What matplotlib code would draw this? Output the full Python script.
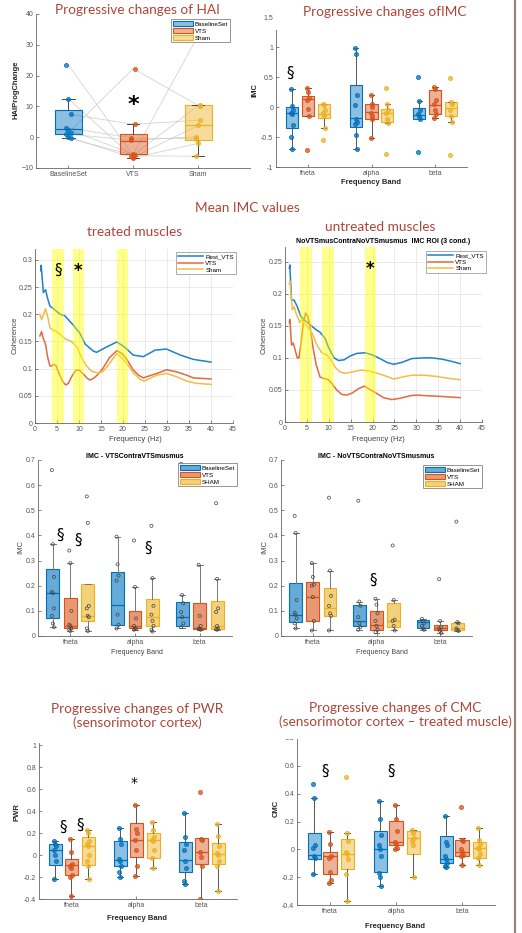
import numpy as np
import matplotlib
matplotlib.use('Agg')
import matplotlib.pyplot as plt
from matplotlib.patches import Rectangle, Patch
from matplotlib.lines import Line2D
from matplotlib.colors import to_rgba

plt.rcParams['font.family'] = ['Liberation Sans', 'DejaVu Sans']

# ---------------- DATA ----------------
conds3 = ['BaselineSet', 'VTS', 'Sham']
bands = ['theta', 'alpha', 'beta']

# HAI progressive change (paired subjects)
hai_base = [23.5, 12.5, 7.5, 3.0, 2.5, 1.5, 1.0, 0.0, -0.3]
hai_vts = [-6.0, -6.5, 4.2, -0.3, -5.5, 22.3, -1.0, -6.7, -5.8]
hai_sham = [-6.2, 3.8, 5.5, -0.5, 33.0, 10.3, 0.2, -2.0, 10.2]
hai_box = [(1.0, 2.7, 8.8, -0.3, 12.5), (-5.6, -1.3, 1.0, -6.7, 4.2), (-1.0, 3.9, 10.3, -6.2, 10.3)]

# Progressive changes of IMC  [theta, alpha, beta]
imcp_base_pts = [[0.3, 0.02, -0.05, -0.1, -0.12, -0.3, -0.5, -0.7],
                 [0.98, 0.88, 0.2, 0.03, -0.2, -0.25, -0.28, -0.46, -0.7],
                 [0.5, 0.1, -0.05, -0.12, -0.15, -0.2, -0.75]]
imcp_vts_pts = [[0.32, 0.25, 0.15, 0.12, -0.03, -0.15, -0.72],
                [0.2, 0.05, 0.0, -0.1, -0.15, -0.2, -0.52],
                [0.33, 0.3, 0.12, 0.05, -0.05, -0.12, -0.18]]
imcp_sham_pts = [[0.05, 0.03, -0.05, -0.1, -0.15, -0.35, -0.55],
                 [0.32, 0.05, -0.05, -0.1, -0.2, -0.27, -0.78],
                 [0.48, 0.08, 0.05, -0.05, -0.15, -0.25, -0.8]]
imcp_base_box = [(-0.35, -0.1, 0.0, -0.7, 0.3), (-0.34, -0.18, 0.37, -0.7, 0.98), (-0.2, -0.14, -0.02, -0.2, 0.1)]
imcp_vts_box = [(-0.15, 0.13, 0.18, -0.15, 0.32), (-0.2, -0.08, 0.05, -0.52, 0.2), (-0.12, 0.03, 0.28, -0.18, 0.33)]
imcp_sham_box = [(-0.18, -0.12, 0.05, -0.35, 0.05), (-0.25, -0.1, -0.03, -0.27, 0.05), (-0.15, -0.02, 0.08, -0.25, 0.08)]

# Mean IMC coherence spectra - treated muscles
fL_rest = [1.3, 1.4, 1.9, 2.4, 2.9, 3.4, 4.2, 5.7, 6.8, 8.7, 10.2, 11.4, 13.3, 14.0, 16.3, 18.6, 20.3, 22.3, 24.6, 27.3, 29.9, 33.0, 36.0, 40.0]
cL_rest = [0.28, 0.29, 0.24, 0.245, 0.228, 0.215, 0.21, 0.2, 0.197, 0.18, 0.165, 0.145, 0.132, 0.13, 0.14, 0.149, 0.14, 0.125, 0.122, 0.134, 0.136, 0.125, 0.117, 0.112]
fL_vts = [1.1, 1.5, 1.9, 2.4, 2.9, 3.4, 3.8, 4.3, 4.8, 5.5, 6.4, 7.0, 7.6, 8.3, 9.3, 10.1, 11.0, 11.9, 12.5, 13.3, 14.4, 15.4, 16.9, 18.6, 19.7, 20.8, 22.3, 23.5, 24.6, 26.1, 28.0, 29.9, 32.2, 34.1, 36.0, 37.9, 40.0]
cL_vts = [0.16, 0.168, 0.155, 0.145, 0.12, 0.105, 0.105, 0.108, 0.105, 0.09, 0.075, 0.07, 0.073, 0.085, 0.097, 0.097, 0.09, 0.082, 0.079, 0.082, 0.09, 0.1, 0.12, 0.133, 0.128, 0.118, 0.098, 0.088, 0.083, 0.087, 0.092, 0.098, 0.094, 0.089, 0.083, 0.082, 0.081]
fL_sham = [1.1, 1.5, 2.4, 2.9, 3.4, 4.2, 4.5, 5.7, 6.8, 8.3, 9.5, 10.6, 11.7, 12.9, 14.4, 15.5, 17.0, 18.6, 19.7, 20.8, 22.3, 23.9, 24.8, 26.1, 27.7, 29.9, 32.2, 34.5, 36.7, 40.0]
cL_sham = [0.2, 0.19, 0.21, 0.195, 0.175, 0.17, 0.17, 0.163, 0.155, 0.15, 0.14, 0.12, 0.105, 0.095, 0.092, 0.095, 0.11, 0.128, 0.12, 0.11, 0.093, 0.08, 0.077, 0.082, 0.088, 0.091, 0.085, 0.077, 0.073, 0.071]
spansL = [(3.9, 6.5), (8.6, 11.1), (18.6, 21.1)]

# untreated muscles
fR_rest = [1.0, 1.1, 1.5, 2.1, 2.8, 3.6, 4.6, 5.7, 6.9, 8.0, 9.2, 9.9, 11.2, 12.2, 13.5, 14.9, 16.4, 18.3, 19.8, 21.4, 23.3, 24.8, 26.7, 29.0, 31.7, 33.6, 35.9, 37.8, 40.0]
cR_rest = [0.24, 0.245, 0.19, 0.19, 0.18, 0.165, 0.158, 0.152, 0.145, 0.14, 0.13, 0.117, 0.1, 0.096, 0.097, 0.103, 0.107, 0.108, 0.105, 0.1, 0.093, 0.09, 0.093, 0.099, 0.1, 0.1, 0.098, 0.095, 0.091]
fR_vts = [1.0, 1.1, 1.5, 1.9, 2.3, 2.8, 3.2, 3.6, 4.2, 4.7, 5.2, 5.7, 6.3, 7.1, 8.0, 8.8, 9.9, 10.7, 11.8, 13.0, 14.1, 15.3, 16.8, 18.1, 19.1, 20.6, 22.5, 24.4, 26.3, 28.6, 30.2, 32.4, 35.5, 40.0]
cR_vts = [0.155, 0.16, 0.12, 0.123, 0.113, 0.1, 0.1, 0.12, 0.155, 0.17, 0.165, 0.15, 0.12, 0.09, 0.07, 0.068, 0.066, 0.06, 0.05, 0.043, 0.042, 0.045, 0.052, 0.056, 0.052, 0.046, 0.038, 0.035, 0.037, 0.041, 0.042, 0.041, 0.04, 0.038]
fR_sham = [1.0, 1.1, 1.7, 2.1, 2.5, 3.1, 3.4, 3.8, 4.2, 5.0, 6.1, 7.3, 8.4, 9.5, 10.5, 11.5, 12.6, 13.7, 15.3, 17.2, 19.1, 20.6, 22.9, 24.8, 26.7, 29.0, 31.7, 34.7, 37.4, 40.0]
cR_sham = [0.215, 0.22, 0.175, 0.18, 0.17, 0.16, 0.155, 0.16, 0.155, 0.15, 0.14, 0.12, 0.108, 0.105, 0.097, 0.085, 0.078, 0.076, 0.078, 0.081, 0.08, 0.077, 0.072, 0.067, 0.07, 0.073, 0.073, 0.071, 0.068, 0.066]
spansR = [(3.4, 6.1), (8.5, 11.2), (18.2, 20.9)]

# IMC - VTSContraVTSmusmus
imcA_base_pts = [[0.66, 0.365, 0.235, 0.175, 0.17, 0.11, 0.08, 0.05, 0.035],
                 [0.395, 0.285, 0.24, 0.22, 0.085, 0.045, 0.03],
                 [0.685, 0.163, 0.13, 0.095, 0.075, 0.05, 0.035]]
imcA_vts_pts = [[0.34, 0.29, 0.1, 0.045, 0.04, 0.03, 0.025, 0.02],
                [0.38, 0.195, 0.07, 0.04, 0.03, 0.028, 0.025],
                [0.283, 0.08, 0.04, 0.03, 0.028, 0.025]]
imcA_sham_pts = [[0.555, 0.45, 0.12, 0.11, 0.08, 0.075, 0.03, 0.02],
                 [0.438, 0.23, 0.12, 0.085, 0.06, 0.04, 0.025, 0.018],
                 [0.528, 0.227, 0.11, 0.095, 0.04, 0.03, 0.028, 0.025]]
imcA_base_box = [(0.07, 0.172, 0.265, 0.035, 0.365), (0.045, 0.125, 0.255, 0.03, 0.395), (0.04, 0.075, 0.137, 0.03, 0.163)]
imcA_vts_box = [(0.03, 0.04, 0.15, 0.02, 0.29), (0.03, 0.04, 0.1, 0.025, 0.195), (0.028, 0.03, 0.133, 0.025, 0.283)]
imcA_sham_box = [(0.06, 0.08, 0.205, 0.02, 0.205), (0.04, 0.075, 0.148, 0.018, 0.23), (0.028, 0.04, 0.14, 0.025, 0.227)]

# IMC - NoVTSContraNoVTSmusmus
imcB_base_pts = [[0.478, 0.41, 0.143, 0.093, 0.085, 0.07, 0.05, 0.03],
                 [0.538, 0.137, 0.12, 0.075, 0.05, 0.035, 0.025],
                 [0.068, 0.06, 0.05, 0.04, 0.03, 0.025]]
imcB_vts_pts = [[0.29, 0.235, 0.205, 0.2, 0.155, 0.06, 0.022],
                [0.148, 0.125, 0.09, 0.06, 0.04, 0.025, 0.015],
                [0.226, 0.06, 0.035, 0.03, 0.02, 0.012]]
imcB_sham_pts = [[0.55, 0.26, 0.16, 0.12, 0.09, 0.08, 0.022],
                 [0.36, 0.143, 0.065, 0.06, 0.04, 0.022],
                 [0.455, 0.055, 0.05, 0.03, 0.025, 0.02]]
imcB_base_box = [(0.055, 0.083, 0.21, 0.03, 0.41), (0.04, 0.058, 0.123, 0.025, 0.137), (0.03, 0.055, 0.063, 0.025, 0.068)]
imcB_vts_box = [(0.06, 0.155, 0.215, 0.022, 0.29), (0.025, 0.045, 0.1, 0.012, 0.148), (0.025, 0.032, 0.045, 0.012, 0.06)]
imcB_sham_box = [(0.08, 0.11, 0.19, 0.022, 0.26), (0.035, 0.058, 0.13, 0.022, 0.143), (0.025, 0.033, 0.052, 0.02, 0.055)]

# PWR
pwr_base_pts = [[0.13, 0.1, 0.08, 0.05, 0.0, -0.05, -0.22],
                [0.25, 0.15, 0.1, -0.04, -0.05, -0.1, -0.15, -0.2],
                [0.38, 0.16, 0.1, 0.05, -0.05, -0.12, -0.24, -0.26]]
pwr_vts_pts = [[0.15, 0.03, -0.08, -0.1, -0.12, -0.18, -0.2, -0.37],
               [0.46, 0.24, 0.2, 0.14, 0.05, -0.1, -0.19],
               [0.57, 0.15, 0.14, 0.03, -0.02, -0.1, -0.4]]
pwr_sham_pts = [[0.23, 0.2, 0.13, 0.1, 0.08, 0.0, -0.05, -0.1, -0.22],
                [0.3, 0.23, 0.16, 0.14, 0.13, 0.05, -0.03, -0.12],
                [0.28, 0.17, 0.08, 0.02, 0.0, -0.05, -0.1, -0.33]]
pwr_base_box = [(-0.09, 0.05, 0.1, -0.22, 0.13), (-0.1, -0.045, 0.13, -0.2, 0.25), (-0.15, -0.045, 0.12, -0.26, 0.38)]
pwr_vts_box = [(-0.18, -0.09, -0.04, -0.37, 0.15), (-0.02, 0.14, 0.29, -0.19, 0.46), (-0.08, 0.03, 0.155, -0.4, 0.155)]
pwr_sham_box = [(-0.09, 0.08, 0.16, -0.22, 0.23), (-0.03, 0.14, 0.2, -0.12, 0.3), (-0.08, 0.01, 0.11, -0.33, 0.28)]

# CMC
cmc_base_pts = [[0.47, 0.37, 0.03, 0.01, -0.05, -0.06, -0.18],
                [0.35, 0.22, 0.1, 0.03, 0.0, -0.05, -0.17, -0.2, -0.265],
                [0.24, 0.05, 0.03, -0.05, -0.07, -0.1, -0.12, -0.13]]
cmc_vts_pts = [[0.125, 0.035, -0.05, -0.06, -0.16, -0.22, -0.24],
               [0.32, 0.22, 0.135, 0.05, 0.04, 0.01, 0.0],
               [0.305, 0.07, 0.06, 0.0, -0.02, -0.04, -0.05, -0.115]]
cmc_sham_pts = [[0.52, 0.12, 0.06, -0.02, -0.03, -0.07, -0.18, -0.37],
                [0.14, 0.12, 0.08, 0.06, 0.03, -0.2],
                [0.155, 0.07, 0.04, 0.01, 0.0, -0.03, -0.06, -0.115]]
cmc_base_box = [(-0.07, -0.04, 0.115, -0.18, 0.37), (-0.165, 0.0, 0.13, -0.265, 0.35), (-0.1, -0.07, 0.095, -0.13, 0.24)]
cmc_vts_box = [(-0.18, -0.05, -0.02, -0.24, 0.125), (0.03, 0.05, 0.205, 0.0, 0.32), (-0.05, -0.02, 0.065, -0.115, 0.08)]
cmc_sham_box = [(-0.14, -0.03, 0.075, -0.37, 0.12), (-0.03, 0.08, 0.13, -0.2, 0.14), (-0.06, 0.01, 0.055, -0.115, 0.155)]

# ---------------- STYLE ----------------
W, H = 522, 933
fig = plt.figure(figsize=(W / 100, H / 100), dpi=100)
BLUE, ORANGE, YELLOW = '#0072BD', '#D95319', '#EDB120'
TCOL = '#AE4538'
TFONT = ['Lato', 'DejaVu Sans']
SYM = ['DejaVu Sans']


def ax_px(l, t, r, b):
    return fig.add_axes([l / W, 1 - b / H, (r - l) / W, (b - t) / H])


def style(ax, grid=False):
    for s in ['top', 'right']:
        ax.spines[s].set_visible(False)
    for s in ['left', 'bottom']:
        ax.spines[s].set_color('#666666')
        ax.spines[s].set_linewidth(0.6)
    ax.tick_params(direction='in', length=2, width=0.5, labelsize=5, colors='#555555', pad=2)
    if grid:
        ax.grid(True, color='#e3e3e3', lw=0.5)
        ax.set_axisbelow(True)


def label_px(ax, text, x, y, rot=0, bold=False, size=5.5, color='#262626'):
    fig.text(x / W, 1 - y / H, text, rotation=rot, ha='center', va='center', fontsize=size,
             fontweight='bold' if bold else 'normal', color=color)


def ftitle(text, x, y, size=9.8):
    fig.text(x / W, 1 - y / H, text, ha='center', va='center', fontsize=size, color=TCOL,
             family=TFONT, zorder=10, linespacing=1.05)


def draw_boxes(ax, positions, stats, pts, color, width, falpha, filled_pts, wcol='#555555'):
    for i, (p, st) in enumerate(zip(positions, stats)):
        q1, med, q3, lo, hi = st
        ax.bxp([dict(q1=q1, med=med, q3=q3, whislo=lo, whishi=hi, fliers=[])], positions=[p],
               widths=width, patch_artist=True, showfliers=False, manage_ticks=False,
               boxprops=dict(facecolor=to_rgba(color, falpha), edgecolor=color, lw=0.8),
               medianprops=dict(color=color, lw=0.9),
               whiskerprops=dict(color=wcol, lw=0.7), capprops=dict(color=wcol, lw=0.7),
               capwidths=width * 0.45)
        vals = np.array(pts[i])
        off = ((np.arange(len(vals)) % 3) - 1) * width * 0.08
        if filled_pts:
            ax.scatter(p + off, vals, s=9, facecolor=to_rgba(color, 0.75), edgecolor=color,
                       linewidths=0.5, zorder=5)
        else:
            ax.scatter(p + off, vals, s=5, facecolor='none', edgecolor='#444444',
                       linewidths=0.5, zorder=5)


def legend_patches(ax, labels, cols, falpha, x, y, size=4.5):
    hs = [Patch(facecolor=to_rgba(c, falpha), edgecolor=c, lw=0.8) for c in cols]
    lg = ax.legend(hs, labels, loc='upper left', bbox_to_anchor=(x / W, 1 - y / H),
                   bbox_transform=fig.transFigure, fontsize=size, frameon=True, fancybox=False,
                   handlelength=3.2, handleheight=1.0, handletextpad=0.3, borderpad=0.3,
                   labelspacing=0.15, borderaxespad=0)
    lg.get_frame().set_edgecolor('#666666')
    lg.get_frame().set_linewidth(0.6)
    return lg


# ---------------- PANEL 1: HAI ----------------
ax1 = ax_px(36, 14, 250, 168)
style(ax1)
xs = np.arange(1, 4)
for a, b, c in zip(hai_base, hai_vts, hai_sham):
    ax1.plot(xs, [a, b, c], color='#c9c9c9', lw=0.6, alpha=0.8, zorder=1)
for i, (vals, col) in enumerate(zip([hai_base, hai_vts, hai_sham], [BLUE, ORANGE, YELLOW])):
    draw_boxes(ax1, [xs[i]], [hai_box[i]], [vals], col, 0.42, 0.45, True, wcol='#444444')
ax1.set_xlim(0.5, 3.8)
ax1.set_ylim(-10, 40)
ax1.set_yticks([-10, 0, 10, 20, 30, 40])
ax1.set_xticks(xs)
ax1.set_xticklabels(conds3)
ax1.text(2, 10.5, '*', ha='center', va='center', fontsize=16, fontweight='bold', family=SYM)
legend_patches(ax1, ['BaselineSet', 'VTS', 'Sham'], [BLUE, ORANGE, YELLOW], 0.45, 171, 19)
label_px(ax1, 'HAIProgChange', 16, 90, rot=90, bold=True)
ftitle('Progressive changes of HAI', 137, 10)

# ---------------- PANEL 2: IMC progressive ----------------
ax2 = ax_px(276, 17, 467, 167)
style(ax2)
bx = np.arange(1, 4)
draw_boxes(ax2, bx - 0.25, imcp_base_box, imcp_base_pts, BLUE, 0.19, 0.45, True)
draw_boxes(ax2, bx, imcp_vts_box, imcp_vts_pts, ORANGE, 0.19, 0.45, True)
draw_boxes(ax2, bx + 0.25, imcp_sham_box, imcp_sham_pts, YELLOW, 0.19, 0.45, True)
ax2.set_xlim(0.5, 3.5)
ax2.set_ylim(-1, 1.5)
ax2.set_yticks([-1, -0.5, 0, 0.5, 1, 1.5])
ax2.set_yticklabels(['-1', '-0.5', '0', '0.5', '1', '1.5'])
ax2.set_xticks(bx)
ax2.set_xticklabels(bands)
ax2.text(0.72, 0.57, '§', ha='center', va='center', fontsize=11, family=SYM)
label_px(ax2, 'Frequency Band', 371, 183, bold=True)
label_px(ax2, 'IMC', 255, 90, rot=90, bold=True)
fig.add_artist(Rectangle((273 / W, 1 - 30 / H), 237 / W, 30 / H, transform=fig.transFigure,
                         facecolor='white', edgecolor='none', zorder=9))
ftitle('Progressive changes ofIMC', 385, 12)

# ---------------- Mean IMC line panels ----------------
ftitle('Mean IMC values', 247, 208)
ftitle('treated muscles', 135, 232)
ftitle('untreated muscles', 380, 227)

LB, LO, LY = '#1f80cc', '#e4693c', '#f0bd47'


def line_panel(ax, series, spans, ylim, yticks, leg_xy):
    style(ax, grid=True)
    hs = []
    for f, c, col, lab in series:
        h, = ax.plot(f, c, color=col, lw=1.1, label=lab, zorder=2)
        hs.append(h)
    for a, b in spans:
        ax.axvspan(a, b, color='#ffff00', alpha=0.45, lw=0, zorder=3)
    ax.set_xlim(0, 45)
    ax.set_ylim(*ylim)
    ax.set_xticks(np.arange(0, 46, 5))
    ax.set_yticks(yticks)
    ax.set_yticklabels([('%g' % v) for v in yticks])
    lg = ax.legend(hs, [s[3] for s in series], loc='upper left', bbox_to_anchor=(leg_xy[0] / W, 1 - leg_xy[1] / H),
                   bbox_transform=fig.transFigure, fontsize=4.5, frameon=True, fancybox=False,
                   handlelength=4.0, handletextpad=0.4, borderpad=0.3, labelspacing=0.2, borderaxespad=0)
    lg.get_frame().set_edgecolor('#888888')
    lg.get_frame().set_linewidth(0.6)
    lg.set_zorder(6)


ax3 = ax_px(35, 249, 233, 423)
line_panel(ax3, [(fL_rest, cL_rest, LB, 'Rest_VTS'), (fL_vts, cL_vts, LO, 'VTS'), (fL_sham, cL_sham, LY, 'Sham')],
           spansL, (0, 0.32), [0, 0.05, 0.1, 0.15, 0.2, 0.25, 0.3], (176, 252))
ax3.text(5.3, 0.28, '§', ha='center', va='center', fontsize=11, family=SYM, zorder=7)
ax3.text(9.8, 0.279, '*', ha='center', va='center', fontsize=12, fontweight='bold', family=SYM, zorder=7)
label_px(ax3, 'Frequency (Hz)', 135, 439, size=5.5, color='#444444')
label_px(ax3, 'Coherence', 15, 335, rot=90, size=5.5, color='#444444')

ax4 = ax_px(285, 247, 482, 422)
line_panel(ax4, [(fR_rest, cR_rest, LB, 'Rest_VTS'), (fR_vts, cR_vts, LO, 'VTS'), (fR_sham, cR_sham, LY, 'Sham')],
           spansR, (0, 0.273), [0, 0.05, 0.1, 0.15, 0.2, 0.25], (426, 251))
ax4.set_title('NoVTSmusContraNoVTSmusmus  IMC ROI (3 cond.)', fontsize=5, fontweight='bold', pad=3)
ax4.text(19.4, 0.238, '*', ha='center', va='center', fontsize=12, fontweight='bold', family=SYM, zorder=7)
label_px(ax4, 'Frequency (Hz)', 378, 439, size=5.5, color='#444444')
label_px(ax4, 'Coherence', 264, 335, rot=90, size=5.5, color='#444444')

# ---------------- IMC box panels ----------------
def imc_panel(ax, bb, bv, bs, pb, pv, ps, title, leg_xy):
    style(ax)
    x = np.arange(1, 4)
    draw_boxes(ax, x - 0.27, bb, pb, BLUE, 0.2, 0.6, False, wcol='#777777')
    draw_boxes(ax, x, bv, pv, ORANGE, 0.2, 0.6, False, wcol='#777777')
    draw_boxes(ax, x + 0.27, bs, ps, YELLOW, 0.2, 0.6, False, wcol='#777777')
    ax.set_xlim(0.5, 3.5)
    ax.set_ylim(0, 0.7)
    ax.set_yticks(np.arange(0, 0.71, 0.1))
    ax.set_yticklabels(['0', '0.1', '0.2', '0.3', '0.4', '0.5', '0.6', '0.7'])
    ax.set_xticks(x)
    ax.set_xticklabels(bands)
    ax.set_title(title, fontsize=5, fontweight='bold', pad=1.5)
    legend_patches(ax, ['BaselineSet', 'VTS', 'SHAM'], [BLUE, ORANGE, YELLOW], 0.6, leg_xy[0], leg_xy[1])


ax5 = ax_px(38, 460, 232, 636)
imc_panel(ax5, imcA_base_box, imcA_vts_box, imcA_sham_box, imcA_base_pts, imcA_vts_pts, imcA_sham_pts,
          'IMC - VTSContraVTSmusmus', (178, 463))
ax5.text(0.84, 0.4, '§', ha='center', va='center', fontsize=11, family=SYM)
ax5.text(1.12, 0.38, '§', ha='center', va='center', fontsize=11, family=SYM)
ax5.text(2.2, 0.35, '§', ha='center', va='center', fontsize=11, family=SYM)
label_px(ax5, 'Frequency Band', 137, 653, size=5, color='#444444')
label_px(ax5, 'IMC', 21, 547, rot=90, size=5.5, color='#444444')

ax6 = ax_px(281, 460, 472, 636)
imc_panel(ax6, imcB_base_box, imcB_vts_box, imcB_sham_box, imcB_base_pts, imcB_vts_pts, imcB_sham_pts,
          'IMC - NoVTSContraNoVTSmusmus', (423, 465))
ax6.text(1.95, 0.22, '§', ha='center', va='center', fontsize=11, family=SYM)
label_px(ax6, 'Frequency Band', 382, 653, size=5, color='#444444')
label_px(ax6, 'IMC', 265, 547, rot=90, size=5.5, color='#444444')

# ---------------- PWR ----------------
ax7 = ax_px(39, 743, 237, 899)
style(ax7)
draw_boxes(ax7, bx - 0.25, pwr_base_box, pwr_base_pts, BLUE, 0.2, 0.45, True)
draw_boxes(ax7, bx, pwr_vts_box, pwr_vts_pts, ORANGE, 0.2, 0.45, True)
draw_boxes(ax7, bx + 0.26, pwr_sham_box, pwr_sham_pts, YELLOW, 0.2, 0.45, True)
ax7.set_xlim(0.5, 3.55)
ax7.set_ylim(-0.4, 1.02)
ax7.set_yticks([-0.4, -0.2, 0, 0.2, 0.4, 0.6, 0.8, 1])
ax7.set_yticklabels(['-0.4', '-0.2', '0', '0.2', '0.4', '0.6', '0.8', '1'])
ax7.set_xticks(bx)
ax7.set_xticklabels(bands)
ax7.text(0.87, 0.25, '§', ha='center', va='center', fontsize=11, family=SYM)
ax7.text(1.14, 0.27, '§', ha='center', va='center', fontsize=11, family=SYM)
ax7.text(1.97, 0.66, '*', ha='center', va='center', fontsize=10, family=SYM)
label_px(ax7, 'Frequency Band', 137, 918, bold=True)
label_px(ax7, 'PWR', 17, 812, rot=90, bold=True)
ftitle('Progressive changes of PWR\n(sensorimotor cortex)', 137, 716)

# ---------------- CMC ----------------
ax8 = ax_px(297, 738, 495, 905)
style(ax8)
draw_boxes(ax8, bx - 0.24, cmc_base_box, cmc_base_pts, BLUE, 0.2, 0.45, True)
draw_boxes(ax8, bx, cmc_vts_box, cmc_vts_pts, ORANGE, 0.2, 0.45, True)
draw_boxes(ax8, bx + 0.26, cmc_sham_box, cmc_sham_pts, YELLOW, 0.2, 0.45, True)
ax8.set_xlim(0.5, 3.5)
ax8.set_ylim(-0.4, 0.8)
ax8.set_yticks([-0.4, -0.2, 0, 0.2, 0.4, 0.6, 0.8])
ax8.set_yticklabels(['-0.4', '-0.2', '0', '0.2', '0.4', '0.6', '0.8'])
ax8.set_xticks(bx)
ax8.set_xticklabels(bands)
ax8.text(0.92, 0.56, '§', ha='center', va='center', fontsize=11, family=SYM)
ax8.text(1.92, 0.56, '§', ha='center', va='center', fontsize=11, family=SYM)
label_px(ax8, 'Frequency Band', 395, 926, bold=True)
label_px(ax8, 'CMC', 276, 808, rot=90, bold=True)
fig.add_artist(Rectangle((266 / W, 1 - 739 / H), 244 / W, 60 / H, transform=fig.transFigure,
                         facecolor='white', edgecolor='none', zorder=9))
ftitle('Progressive changes of CMC\n(sensorimotor cortex \u2013 treated muscle)', 395, 715)

# right border line
fig.add_artist(Line2D([515 / W, 515 / W], [0, 1], color='#9c807a', lw=1.6, transform=fig.transFigure))

fig.savefig('out.png', dpi=100, facecolor='white')
